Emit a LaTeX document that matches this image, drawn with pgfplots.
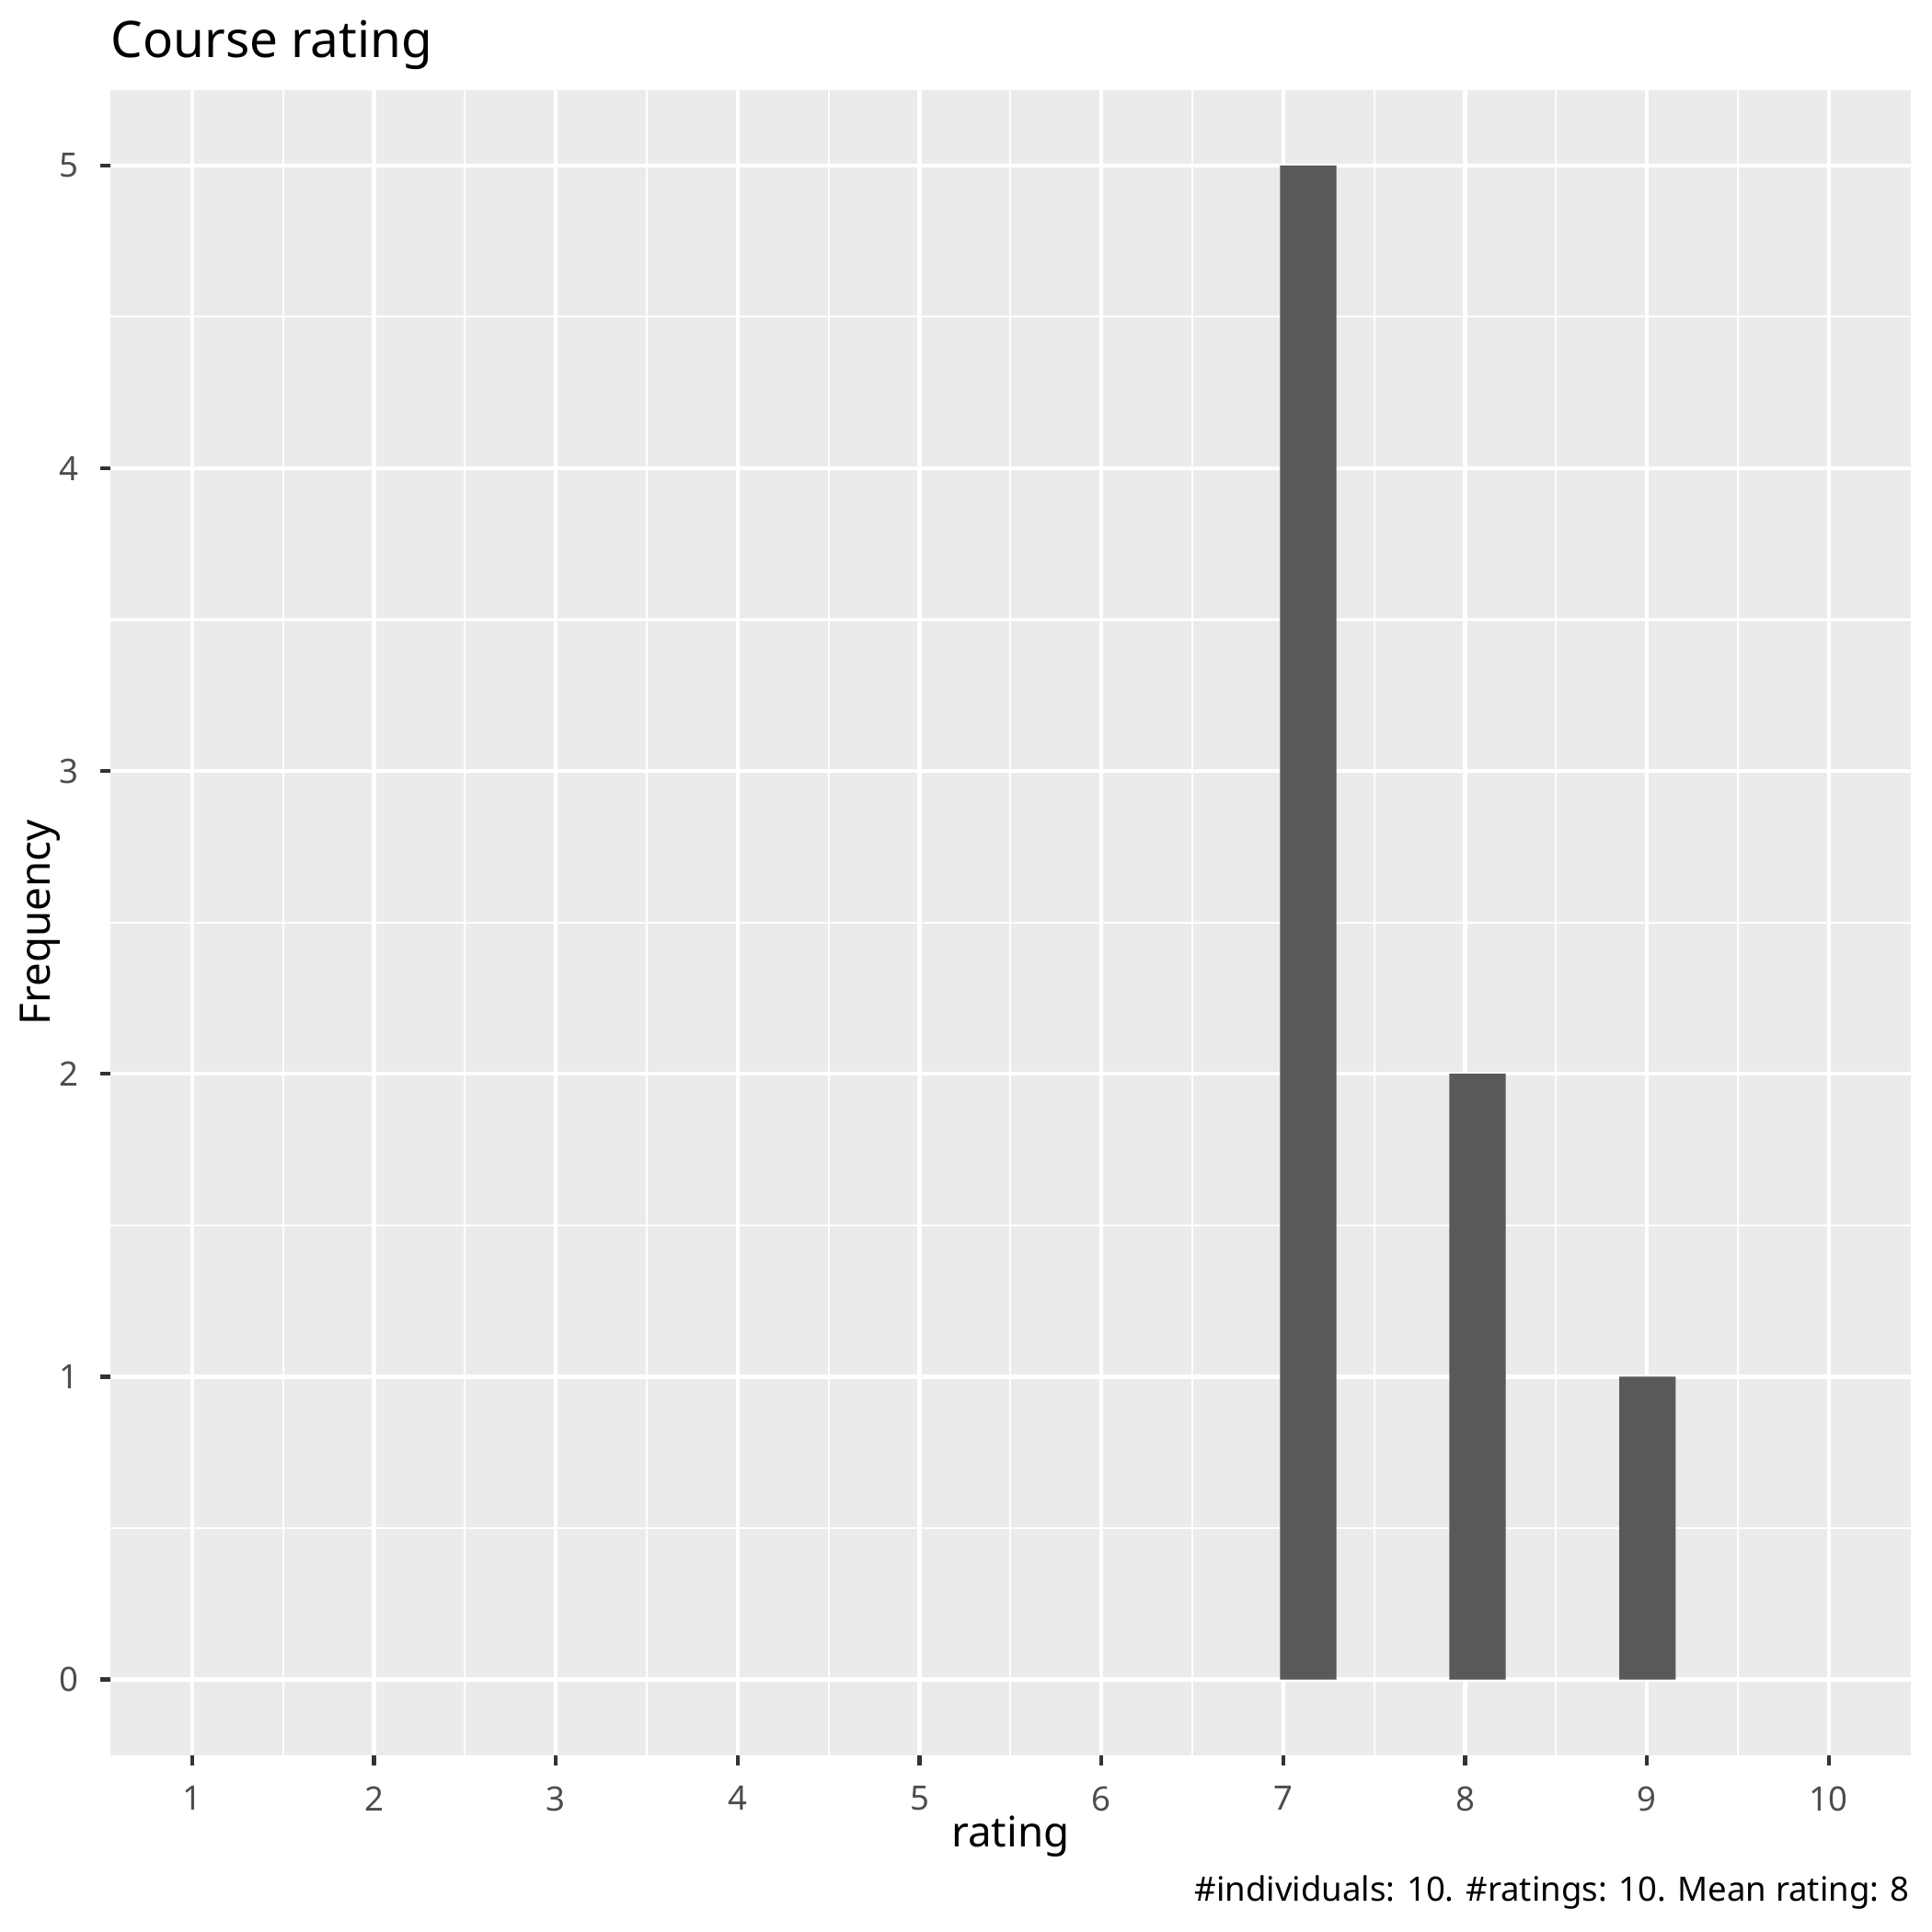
\documentclass[border=0pt]{standalone}
\usepackage{fontspec}
\setmainfont{Noto Sans}
\usepackage{pgfplots}
\pgfplotsset{compat=1.18}
\definecolor{panelbg}{HTML}{EBEBEB}
\definecolor{barfill}{HTML}{595959}
\definecolor{tickcol}{HTML}{333333}
\definecolor{ticklab}{HTML}{4D4D4D}

\begin{document}
\begin{tikzpicture}
  \useasboundingbox (-28.9pt,-46.3pt) rectangle (477.0pt,459.6pt);
  \begin{axis}[
      at={(0,0)}, anchor=south west,
      scale only axis,
      width=471.4pt, height=436.1pt,
      xmin=0.55, xmax=10.45,
      ymin=-0.25, ymax=5.25,
      clip=false,
      axis background/.style={fill=panelbg},
      axis line style={draw=none},
      xtick={1,2,3,4,5,6,7,8,9,10},
      ytick={0,1,2,3,4,5},
      minor xtick={1.5,2.5,3.5,4.5,5.5,6.5,7.5,8.5,9.5},
      minor ytick={0.5,1.5,2.5,3.5,4.5},
      grid=both,
      major grid style={white, line width=1.07pt},
      minor grid style={white, line width=0.53pt},
      tick align=outside,
      xtick pos=bottom, ytick pos=left,
      major tick length=2.75pt, minor tick length=0pt,
      major tick style={tickcol, line width=1.07pt},
      /pgf/number format/assume math mode=true,
      ticklabel style={font=\fontsize{8.8}{10.6}\selectfont, text=ticklab, inner sep=0pt},
      xticklabel style={anchor=north, yshift=-5.2pt},
      yticklabel style={anchor=east, xshift=-5.37pt},
      xlabel={rating},
      ylabel={Frequency},
      xlabel style={at={(axis description cs:0.5,-0.05526)}, anchor=base, inner sep=0pt,
        font=\fontsize{11}{13.2}\selectfont},
      ylabel style={at={(axis description cs:-0.0332,0.5)}, anchor=base, inner sep=0pt,
        rotate=0, font=\fontsize{11}{13.2}\selectfont},
      title={Course rating},
      every axis title shift=0pt,
      title style={at={(axis description cs:0,1.01956)}, anchor=base west, inner sep=0pt,
        font=\fontsize{13.2}{15.8}\selectfont},
    ]
    \addplot[ybar, bar width=0.31, fill=barfill, draw=none]
      coordinates {(7.137,5) (8.068,2) (9.003,1)};
    \node[anchor=base east, inner sep=0pt, font=\fontsize{8.8}{10.6}\selectfont]
      at (rel axis cs:1,-0.08782) {\#individuals: 10. \#ratings: 10. Mean rating: 8};
  \end{axis}
\end{tikzpicture}
\end{document}
